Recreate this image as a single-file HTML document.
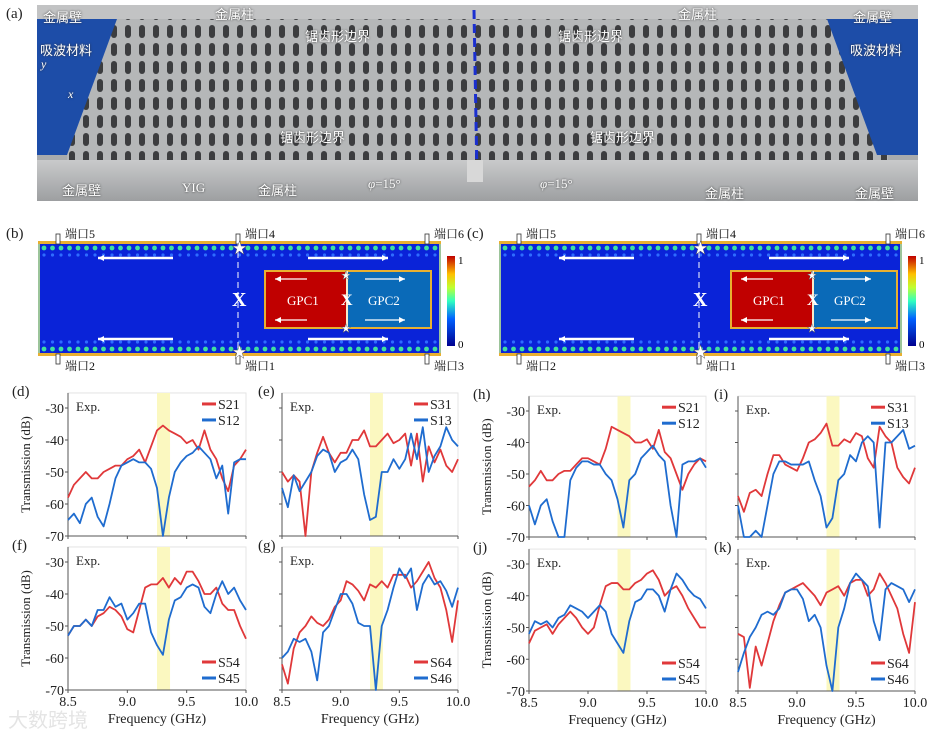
<!DOCTYPE html>
<html><head><meta charset="utf-8"><style>
body{margin:0;background:#fff;width:936px;height:735px;overflow:hidden;position:relative;font-family:"Liberation Serif","Noto Serif CJK SC",serif}
.a{position:absolute}
.pl{position:absolute;font-size:15px;color:#222}
.wt{position:absolute;color:#fff;font-size:12px;font-family:"Liberation Serif","Noto Sans CJK SC",sans-serif;text-shadow:0 0 2px #333}
</style></head><body>
<div class="pl" style="left:6px;top:6px">(a)</div>
<svg class="a" style="left:37px;top:5px" width="881" height="196">
<defs><pattern id="slots" width="14" height="18" patternUnits="userSpaceOnUse"><rect width="14" height="18" fill="#b5b7b8"/><rect x="4" y="2" width="6" height="13" rx="3" fill="#3c3d3f"/></pattern>
<linearGradient id="bar" x1="0" y1="0" x2="0" y2="1"><stop offset="0" stop-color="#c9cacb"/><stop offset="1" stop-color="#9d9fa1"/></linearGradient></defs>
<rect width="881" height="196" fill="#a9abad"/>
<rect x="30" y="12" width="821" height="150" fill="url(#slots)"/>
<rect x="0" y="0" width="881" height="14" fill="#c2c3c4"/>
<rect x="0" y="155" width="881" height="41" fill="url(#bar)"/>
<polygon points="0,14 80,14 30,150 0,150" fill="#1d4da8"/>
<polygon points="881,14 790,14 840,150 881,150" fill="#1d4da8"/>
<line x1="437" y1="5" x2="440" y2="172" stroke="#1a2fd0" stroke-width="3" stroke-dasharray="9,5"/>
<rect x="430" y="155" width="16" height="22" fill="#d8d8d8"/>
</svg>
<div class="wt" style="left:43px;top:7px;font-size:13px">金属壁</div>
<div class="wt" style="left:215px;top:4px;font-size:13px">金属柱</div>
<div class="wt" style="left:678px;top:4px;font-size:13px">金属柱</div>
<div class="wt" style="left:853px;top:7px;font-size:13px">金属壁</div>
<div class="wt" style="left:305px;top:26px;font-size:13px">锯齿形边界</div>
<div class="wt" style="left:558px;top:26px;font-size:13px">锯齿形边界</div>
<div class="wt" style="left:40px;top:40px;font-size:13px">吸波材料</div>
<div class="wt" style="left:850px;top:40px;font-size:13px">吸波材料</div>
<div class="wt" style="left:41px;top:57px;font-style:italic">y</div>
<div class="wt" style="left:68px;top:87px;font-style:italic">x</div>
<div class="wt" style="left:280px;top:127px;font-size:13px">锯齿形边界</div>
<div class="wt" style="left:590px;top:127px;font-size:13px">锯齿形边界</div>
<div class="wt" style="left:62px;top:180px;font-size:13px">金属壁</div>
<div class="wt" style="left:182px;top:180px;font-size:13px">YIG</div>
<div class="wt" style="left:258px;top:180px;font-size:13px">金属柱</div>
<div class="wt" style="left:368px;top:176px;font-size:13px"><i>φ</i>=15°</div>
<div class="wt" style="left:540px;top:176px;font-size:13px"><i>φ</i>=15°</div>
<div class="wt" style="left:705px;top:183px;font-size:13px">金属柱</div>
<div class="wt" style="left:855px;top:183px;font-size:13px">金属壁</div>

<div class="a" style="left:8px;top:704px;font-size:20px;color:#e4e4e4;font-family:'Noto Sans CJK SC',sans-serif">大数跨境</div>

<script>
const NS='http://www.w3.org/2000/svg';
function mk(t,a,p){const e=document.createElementNS(NS,t);for(const k in a)e.setAttribute(k,a[k]);if(p)p.appendChild(e);return e;}
function field(x0,lbl,mx,bx){
  const s=mk('svg',{width:440,height:160,style:'position:absolute;left:'+x0+'px;top:222px;font-family:"Liberation Serif","Noto Serif CJK SC",serif'},null);
  
  
  document.body.appendChild(s);
  const g=mk('defs',{},s);
  const lg=mk('linearGradient',{id:'jet'+lbl,x1:0,y1:1,x2:0,y2:0},g);
  [['0','#00008f'],['.3','#0060ff'],['.5','#30ffc0'],['.65','#c0ff30'],['.8','#ffc000'],['1','#c00000']].forEach(c=>mk('stop',{offset:c[0],'stop-color':c[1]},lg));
  mk('rect',{x:0,y:20,width:403,height:114,fill:'#9cc49a'},s);
  mk('rect',{x:2,y:20,width:399,height:114,fill:'#0a23d8'},s);
  mk('rect',{x:0,y:19,width:403,height:3,fill:'#e8b030'},s);
  mk('rect',{x:0,y:131,width:403,height:3,fill:'#e8b030'},s);
  for(let x=6;x<400;x+=8.5){mk('circle',{cx:x,cy:26,r:2.4,fill:'#40e0a0'},s);mk('circle',{cx:x,cy:127,r:2.4,fill:'#40e0a0'},s);mk('circle',{cx:x,cy:120,r:1.6,fill:'#2f6cff'},s);mk('circle',{cx:x,cy:33,r:1.6,fill:'#2f6cff'},s);}
  mk('line',{x1:mx,y1:20,x2:mx,y2:134,stroke:'#fff','stroke-dasharray':'6,4'},s);
  mk('text',{x:mx-6,y:84,fill:'#fff','font-size':20,'font-weight':'bold'},s).textContent='X';
  mk('rect',{x:bx,y:49,width:82,height:57,fill:'#c00000',stroke:'#e8b030','stroke-width':2},s);
  mk('rect',{x:bx+82,y:49,width:84,height:57,fill:'#0a6ab8',stroke:'#e8b030','stroke-width':2},s);
  mk('line',{x1:bx+82,y1:49,x2:bx+82,y2:106,stroke:'#fff','stroke-width':1.5},s);
  mk('text',{x:bx+76,y:83,fill:'#fff','font-size':16,'font-weight':'bold'},s).textContent='X';
  mk('text',{x:bx+22,y:83,fill:'#fff','font-size':13},s).textContent='GPC1';
  mk('text',{x:bx+103,y:83,fill:'#fff','font-size':13},s).textContent='GPC2';
  [[60,135,36,1],[60,135,117,1],[270,350,36,0],[270,350,117,0],[bx+10,bx+42,57,1],[bx+10,bx+42,98,1],[bx+100,bx+140,57,0],[bx+100,bx+140,98,0]].forEach(a=>{
    mk('line',{x1:a[0],y1:a[2],x2:a[1],y2:a[2],stroke:'#fff','stroke-width':a[1]-a[0]>50?2.5:1.2},s);
    const h=a[3]?a[0]:a[1],d=a[3]?6:-6;mk('polygon',{points:h+','+a[2]+' '+(h+d)+','+(a[2]-3)+' '+(h+d)+','+(a[2]+3),fill:'#fff'},s);});
  mk('rect',{x:409,y:34,width:8,height:90,fill:'url(#jet'+lbl+')'},s);
  mk('text',{x:420,y:42,'font-size':11},s).textContent='1';
  mk('text',{x:420,y:126,'font-size':11},s).textContent='0';
  [[20,'端口5',18],[mx,'端口4',18],[389,'端口6',18],[20,'端口2',150],[mx,'端口1',150],[389,'端口3',150]].forEach(p=>{
    mk('rect',{x:p[0]-2,y:p[2]<50?12:132,width:4,height:10,fill:'#fff',stroke:'#333','stroke-width':.8},s);
    mk('text',{x:p[0]+7,y:p[2]-2,'font-size':12,fill:'#111'},s).textContent=p[1];});
  [[mx,26],[mx,130],[bx+82,52],[bx+82,105]].forEach(q=>{mk('text',{x:q[0]-6,y:q[1]+5,'font-size':q[1]>40&&q[1]<120?10:15,fill:'#fff',stroke:'#555','stroke-width':.4},s).textContent='★';});
  const l=document.createElement('div');l.className='pl';l.style.left=(x0-32)+'px';l.style.top='226px';l.textContent='('+lbl+')';
  
  
  document.body.appendChild(l);
}
field(38,'b',200,227);
field(499,'c',200,232);
</script>
<script>
const freqs=[8.5,8.55,8.6,8.65,8.7,8.75,8.8,8.85,8.9,8.95,9.0,9.05,9.1,9.15,9.2,9.25,9.3,9.35,9.4,9.45,9.5,9.55,9.6,9.65,9.7,9.75,9.8,9.85,9.9,9.95,10.0];
const xTicks=[8.5,9.0,9.5,10.0];
const yTicks=[-30,-40,-50,-60,-70];
const band=[9.25,9.36];
const dS21=[-58,-54,-52,-50,-52,-52,-50,-49,-48,-48,-46,-45,-43,-47,-42,-37,-35.5,-37,-38,-39,-41,-40,-43,-37,-43,-46,-52,-56,-48,-46,-43];
const dS12=[-65,-63,-66,-60,-58,-64,-67,-60,-52,-48,-47,-46,-47,-47,-49,-55,-70,-58,-50,-47,-45,-44,-42,-44,-46,-52,-48,-63,-47,-46,-46];
const eS31=[-50,-53,-51,-53,-70,-50,-44,-39,-44,-47,-44,-44,-40,-40,-37,-42,-42,-40,-38,-41,-40,-38,-48,-38,-53,-42,-47,-43,-48,-50,-46];
const eS13=[-55,-61,-51,-56,-53,-50,-45,-43,-44,-50,-47,-46,-43,-46,-57,-65,-64,-50,-50,-46,-49,-46,-38,-46,-36,-50,-45,-42,-36,-40,-42];
const fS54=[-53,-50,-50,-48,-50,-47,-46,-44,-45,-47,-51,-52,-45,-38,-37,-37,-35,-38,-35,-37,-33,-33,-36,-40,-40,-38,-43,-45,-45,-50,-54];
const fS45=[-53,-50,-50,-48,-50,-45,-45,-41,-44,-43,-48,-46,-43,-43,-52,-56,-59,-48,-42,-41,-38,-37,-38,-44,-46,-40,-36,-40,-38,-42,-45];
const gS64=[-62,-68,-57,-52,-50,-47,-49,-50,-48,-44,-42,-36,-37,-39,-42,-37,-38,-36,-38,-34,-34,-34,-38,-36,-33,-30,-35,-38,-45,-55,-42];
const gS46=[-60,-58,-54,-55,-54,-58,-67,-52,-50,-45,-40,-40,-43,-49,-50,-50,-70,-50,-45,-38,-32,-35,-32,-45,-37,-34,-37,-36,-39,-44,-38];
const hS21=[-54,-52,-49,-52,-52,-50,-49,-49,-47,-45,-45,-46,-47,-42,-35,-36,-37,-38,-40,-40,-39,-42,-36,-43,-45,-50,-55,-50,-47,-45,-46];
const hS12=[-60,-66,-60,-58,-65,-70,-70,-52,-48,-46,-46,-47,-47,-50,-52,-58,-67,-52,-50,-45,-43,-41,-44,-46,-60,-70,-47,-46,-46,-45,-48];
const iS31=[-57,-62,-56,-55,-57,-50,-44,-44,-47,-48,-49,-45,-40,-39,-37,-34,-41,-41,-39,-40,-37,-38,-45,-48,-35,-38,-40,-48,-51,-53,-48];
const iS13=[-60,-70,-70,-68,-70,-60,-50,-46,-46,-47,-47,-47,-46,-52,-57,-67,-64,-52,-50,-44,-46,-40,-38,-40,-67,-40,-40,-38,-36,-42,-41];
const jS54=[-55,-51,-50,-49,-52,-49,-47,-45,-47,-50,-52,-50,-43,-37,-36,-36,-38,-38,-36,-35,-33,-32,-35,-40,-38,-37,-40,-44,-47,-50,-50];
const jS45=[-52,-48,-49,-48,-50,-47,-46,-43,-44,-45,-47,-45,-43,-45,-52,-55,-58,-48,-42,-41,-38,-38,-40,-45,-38,-33,-35,-38,-40,-41,-44];
const kS64=[-52,-53,-69,-56,-62,-55,-48,-43,-39,-38,-37,-36,-38,-40,-43,-39,-38,-37,-40,-36,-35,-35,-40,-38,-33,-36,-40,-44,-52,-58,-42];
const kS46=[-64,-58,-53,-50,-46,-45,-46,-44,-39,-38,-38,-41,-48,-46,-50,-62,-70,-50,-44,-36,-33,-35,-37,-48,-54,-38,-36,-37,-38,-42,-38];
const panels=[
 {id:'d',x0:68,x1:246,y30:408,y70:536,red:dS21,blue:dS12,names:['S21','S12'],yl:1,xl:0,lt:1},
 {id:'e',x0:282,x1:458,y30:408,y70:536,red:eS31,blue:eS13,names:['S31','S13'],yl:0,xl:0,lt:1},
 {id:'f',x0:68,x1:246,y30:562,y70:690,red:fS54,blue:fS45,names:['S54','S45'],yl:1,xl:1,lt:0},
 {id:'g',x0:282,x1:458,y30:562,y70:690,red:gS64,blue:gS46,names:['S64','S46'],yl:0,xl:1,lt:0},
 {id:'h',x0:529,x1:706,y30:411,y70:537,red:hS21,blue:hS12,names:['S21','S12'],yl:1,xl:0,lt:1},
 {id:'i',x0:738,x1:915,y30:411,y70:537,red:iS31,blue:iS13,names:['S31','S13'],yl:0,xl:0,lt:1},
 {id:'j',x0:529,x1:706,y30:564,y70:691,red:jS54,blue:jS45,names:['S54','S45'],yl:1,xl:1,lt:0},
 {id:'k',x0:738,x1:915,y30:564,y70:691,red:kS64,blue:kS46,names:['S64','S46'],yl:0,xl:1,lt:0}];
const svg=mk('svg',{width:936,height:735,style:'position:absolute;left:0;top:0;font-family:"Liberation Serif",serif'},null);


document.body.appendChild(svg);
panels.forEach(p=>{
  const X=f=>p.x0+(f-8.5)/1.5*(p.x1-p.x0);
  const Y=v=>p.y30+(v+30)/-40*(p.y70-p.y30);
  const top=Y(-25.3);
  const g=mk('g',{},svg);
  
  
  mk('rect',{x:p.x0,y:top,width:p.x1-p.x0,height:p.y70-top,fill:'#fff',stroke:'#e4e4e4'},g);
  const b=mk('rect',{x:X(band[0]),y:top,width:X(band[1])-X(band[0]),height:p.y70-top,fill:'#fbf8c0'},g);
  
  
  mk('line',{x1:p.x0,y1:top,x2:p.x0,y2:p.y70,stroke:'#555'},g);
  mk('line',{x1:p.x0,y1:p.y70,x2:p.x1,y2:p.y70,stroke:'#555'},g);
  yTicks.forEach(t=>{mk('line',{x1:p.x0-3,y1:Y(t),x2:p.x0,y2:Y(t),stroke:'#555'},g);
    if(p.yl){const tx=mk('text',{x:p.x0-4,y:Y(t)+5,'text-anchor':'end','font-size':14,fill:'#222'},g);tx.textContent=t;
    
    }});
  xTicks.forEach(t=>{mk('line',{x1:X(t),y1:p.y70,x2:X(t),y2:p.y70+3,stroke:'#555'},g);
    if(p.xl){const tx=mk('text',{x:X(t),y:p.y70+16,'text-anchor':'middle','font-size':14,fill:'#222'},g);tx.textContent=t.toFixed(1);
    
    }});
  [[p.red,'#e0383a'],[p.blue,'#1f6ccf']].forEach((s,si)=>{
    const pl=mk('polyline',{points:freqs.map((f,i)=>X(f)+','+Y(Math.max(-70,s[0][i]))).join(' '),fill:'none',stroke:s[1],'stroke-width':1.8,'stroke-linejoin':'round'},g);
    
    
    const ly=p.lt?top+11+si*16:p.y70-28+si*16;
    mk('line',{x1:p.x1-44,y1:ly,x2:p.x1-30,y2:ly,stroke:s[1],'stroke-width':3},g);
    const lt=mk('text',{x:p.x1-28,y:ly+5,'font-size':14,fill:'#222'},g);lt.textContent=p.names[si];
    
    
  });
  const ex=mk('text',{x:p.x0+8,y:top+18,'font-size':13,fill:'#222'},g);ex.textContent='Exp.';
  
  
  const pl=mk('text',{x:p.x0-(p.yl?56:24),y:top+3,'font-size':15,fill:'#222'},g);pl.textContent='('+p.id+')';
  
  
  if(p.yl){const yt=mk('text',{x:0,y:0,'font-size':13,fill:'#222','text-anchor':'middle',transform:'translate('+(p.x0-38)+','+((top+p.y70)/2)+') rotate(-90)'},g);yt.textContent='Transmission (dB)';
    
    }
  if(p.xl){const xt=mk('text',{x:(p.x0+p.x1)/2,y:p.y70+33,'font-size':14,fill:'#222','text-anchor':'middle'},g);xt.textContent='Frequency (GHz)';
    
    }
});
</script>
</body></html>
